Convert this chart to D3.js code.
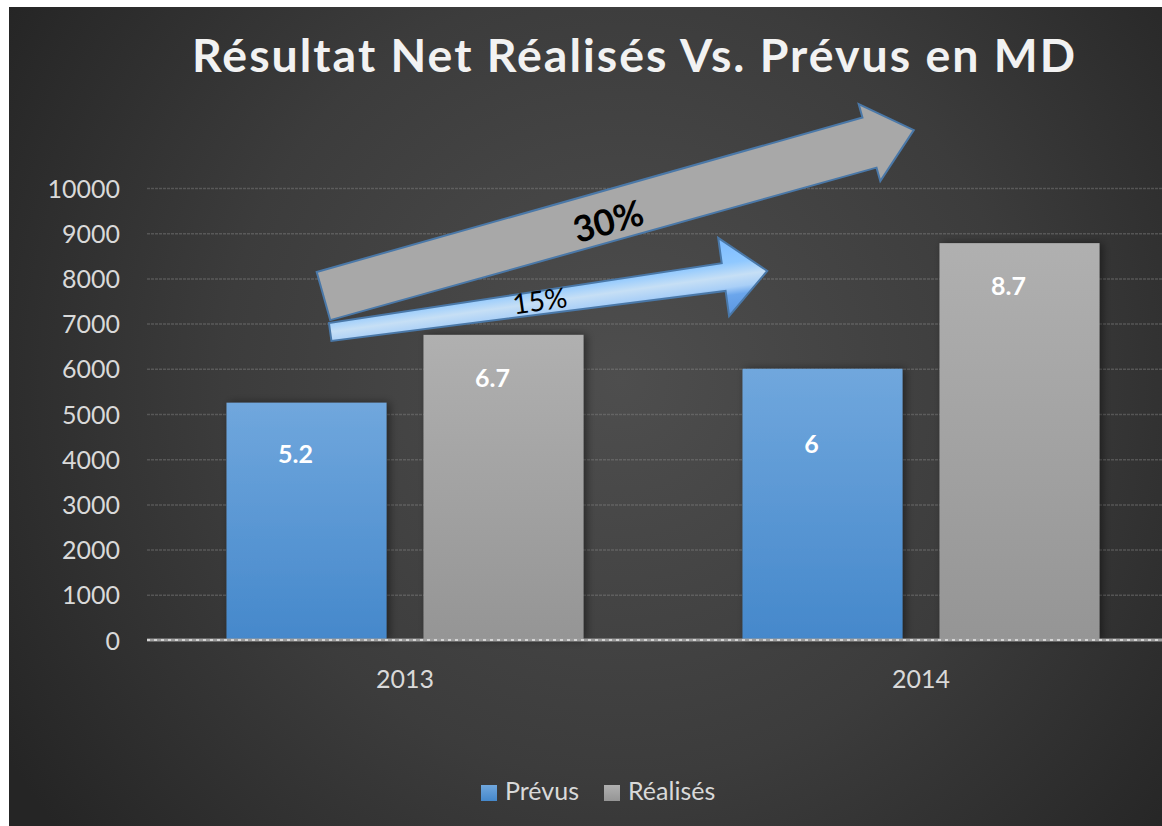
<!DOCTYPE html>
<html>
<head>
<meta charset="UTF-8">
<title>Résultat Net Réalisés Vs. Prévus en MD</title>
<script src="https://cdn.jsdelivr.net/npm/d3@7"></script>
<style>
  body { margin: 0; background: #fff; }
  svg { display: block; }
  .tick text { fill: #d9d9d9; font-family: Lato, "Open Sans", sans-serif; font-size: 25px; }
</style>
</head>
<body>
<div id="chart"></div>
<script>
// data
var years = ["2013", "2014"];
var series = ["Prévus", "Réalisés"];
var prevus = [5250, 6000];
var realises = [6750, 8780];
var prevusLabels = ["5.2", "6"];
var realisesLabels = ["6.7", "8.7"];
var yTicks = [0, 1000, 2000, 3000, 4000, 5000, 6000, 7000, 8000, 9000, 10000];
var labelDy = [[60, 84], [52, 52]]; // baseline below bar top, per series / year

// growth arrows, tail and tip in (category units, value)
var arrows = [
  { label: "30%", tail: [0.342, 7610], tip: [1.486, 11280], tailW: 50, neckW: 52, headW: 80, headLen: 46, fill: "#a8a8a8", bold: true, size: 36, t: 0.48, off: 4 },
  { label: "15%", tail: [0.355, 6815], tip: [1.202, 8165], tailW: 18, neckW: 28, headW: 79, headLen: 44, fill: "url(#blueArrow)", bold: false, size: 28, t: 0.48, off: -3 }
];

var width = 1162, height = 826;
var font = "Lato, 'Open Sans', sans-serif";

var svg = d3.select("#chart").append("svg")
  .attr("width", width).attr("height", height);

var defs = svg.append("defs");

var bg = defs.append("radialGradient").attr("id", "bg")
  .attr("gradientUnits", "userSpaceOnUse")
  .attr("cx", 620).attr("cy", 380).attr("r", 720);
bg.append("stop").attr("offset", 0).attr("stop-color", "#4e4e4e");
bg.append("stop").attr("offset", 0.55).attr("stop-color", "#3c3c3c");
bg.append("stop").attr("offset", 1).attr("stop-color", "#252525");

function vGrad(id, top, bottom) {
  var g = defs.append("linearGradient").attr("id", id)
    .attr("x1", 0).attr("y1", 0).attr("x2", 0).attr("y2", 1);
  g.append("stop").attr("offset", 0).attr("stop-color", top);
  g.append("stop").attr("offset", 1).attr("stop-color", bottom);
}
vGrad("gPrevus", "#70a7dd", "#4588cb");
vGrad("gRealises", "#b0b0b0", "#959595");
var fills = { "Prévus": "url(#gPrevus)", "Réalisés": "url(#gRealises)" };

var shadow = defs.append("filter").attr("id", "shadow")
  .attr("x", "-10%").attr("y", "-10%").attr("width", "130%").attr("height", "120%");
shadow.append("feDropShadow").attr("dx", 3).attr("dy", 0).attr("stdDeviation", 4)
  .attr("flood-color", "#000").attr("flood-opacity", 0.45);

// background
svg.append("rect").attr("x", 9).attr("y", 7)
  .attr("width", width - 9).attr("height", height - 7)
  .attr("fill", "url(#bg)");

// scales
var x0 = d3.scaleBand().domain(years).range([147, 1179]);
var x1 = d3.scaleBand().domain(series).range([0, x0.bandwidth()])
  .paddingInner(0.1878).paddingOuter(0.4036);
var y = d3.scaleLinear().domain([0, 10000]).range([640, 188]);
var xu = d3.scaleLinear().domain([0, 2]).range(x0.range());

// title
svg.append("text")
  .attr("x", 192).attr("y", 72)
  .attr("textLength", 885).attr("lengthAdjust", "spacingAndGlyphs")
  .style("font-family", font).style("font-weight", "bold")
  .style("font-size", "46px").style("letter-spacing", "2px")
  .attr("fill", "#f2f2f2")
  .text("Résultat Net Réalisés Vs. Prévus en MD");

// y axis + gridlines
var yAxisG = svg.append("g").attr("class", "axis")
  .attr("transform", "translate(147,0)")
  .call(d3.axisLeft(y).tickValues(yTicks).tickFormat(d3.format("d"))
    .tickSize(-(width - 147)).tickPadding(27));
yAxisG.select(".domain").remove();
yAxisG.selectAll(".tick line")
  .attr("stroke", "#8a8a8a").attr("stroke-opacity", 0.4)
  .attr("stroke-width", 1.5).attr("stroke-dasharray", "3,1");
yAxisG.selectAll(".tick text").attr("dy", "0.36em");
yAxisG.selectAll(".tick").filter(function(d) { return d === 0; }).select("line").remove();

// bars
var rows = years.map(function(yr, i) {
  return [
    { year: yr, s: "Prévus", v: prevus[i], lab: prevusLabels[i], dy: labelDy[0][i] },
    { year: yr, s: "Réalisés", v: realises[i], lab: realisesLabels[i], dy: labelDy[1][i] }
  ];
});

var groups = svg.selectAll(".year").data(rows).enter().append("g")
  .attr("class", "year")
  .attr("transform", function(d, i) { return "translate(" + x0(years[i]) + ",0)"; });

groups.selectAll("rect").data(function(d) { return d; }).enter().append("rect")
  .attr("x", function(d) { return x1(d.s); })
  .attr("y", function(d) { return y(d.v); })
  .attr("width", x1.bandwidth())
  .attr("height", function(d) { return y(0) - y(d.v); })
  .attr("fill", function(d) { return fills[d.s]; })
  .attr("filter", "url(#shadow)");

groups.selectAll(".lab").data(function(d) { return d; }).enter().append("text")
  .attr("class", "lab")
  .attr("x", function(d) { return x1(d.s) + x1.bandwidth() / 2 - 11; })
  .attr("y", function(d) { return y(d.v) + d.dy; })
  .attr("text-anchor", "middle")
  .style("font-family", font).style("font-weight", "bold").style("font-size", "25px")
  .attr("fill", "#ffffff")
  .text(function(d) { return d.lab; });

// baseline
svg.append("line").attr("x1", 147).attr("x2", width)
  .attr("y1", y(0)).attr("y2", y(0))
  .attr("stroke", "#9c9c9c").attr("stroke-width", 3);
svg.append("line").attr("x1", 147).attr("x2", width)
  .attr("y1", y(0)).attr("y2", y(0))
  .attr("stroke", "#d4d4d4").attr("stroke-width", 2).attr("stroke-dasharray", "3,4");

// x axis labels
var xAxisG = svg.append("g").attr("class", "axis")
  .attr("transform", "translate(0," + y(0) + ")")
  .call(d3.axisBottom(x0).tickSize(0).tickPadding(30));
xAxisG.select(".domain").remove();

// arrows
arrows.forEach(function(a, i) {
  var p0 = [xu(a.tail[0]), y(a.tail[1])];
  var p1 = [xu(a.tip[0]), y(a.tip[1])];
  var len = Math.hypot(p1[0] - p0[0], p1[1] - p0[1]);
  var d = [(p1[0] - p0[0]) / len, (p1[1] - p0[1]) / len];
  var n = [-d[1], d[0]];
  var neck = [p1[0] - d[0] * a.headLen, p1[1] - d[1] * a.headLen];
  function at(p, k) { return [p[0] + n[0] * k, p[1] + n[1] * k]; }
  var pts = [at(p0, -a.tailW / 2), at(neck, -a.neckW / 2), at(neck, -a.headW / 2), p1,
             at(neck, a.headW / 2), at(neck, a.neckW / 2), at(p0, a.tailW / 2)];

  if (a.fill.indexOf("blueArrow") >= 0) {
    var g0 = at(p0, -a.headW / 2), g1 = at(p0, a.headW / 2);
    var lg = defs.append("linearGradient").attr("id", "blueArrow")
      .attr("gradientUnits", "userSpaceOnUse")
      .attr("x1", g0[0]).attr("y1", g0[1]).attr("x2", g1[0]).attr("y2", g1[1]);
    [[0, "#7cbaff"], [0.33, "#8fc8ff"], [0.5, "#c6dff5"], [0.64, "#a9cff7"], [0.74, "#6ba6ec"], [1, "#5a95df"]]
      .forEach(function(s) { lg.append("stop").attr("offset", s[0]).attr("stop-color", s[1]); });
  }

  svg.append("path")
    .attr("d", d3.line()(pts) + "Z")
    .attr("fill", a.fill)
    .attr("stroke", "#4a78a8").attr("stroke-width", 2).attr("stroke-linejoin", "miter");

  var c = at([p0[0] + d[0] * len * a.t, p0[1] + d[1] * len * a.t], a.off);
  var ang = Math.atan2(d[1], d[0]) * 180 / Math.PI;
  svg.append("text")
    .attr("transform", "translate(" + c[0] + "," + c[1] + ") rotate(" + ang + ")")
    .attr("text-anchor", "middle").attr("dominant-baseline", "central")
    .style("font-family", font).style("font-weight", a.bold ? "bold" : "normal")
    .style("font-size", a.size + "px")
    .attr("fill", "#000")
    .text(a.label);
});

// legend
var legend = svg.append("g").attr("transform", "translate(481,785)");
var legX = [0, 123];
series.forEach(function(s, i) {
  legend.append("rect").attr("x", legX[i]).attr("y", 0)
    .attr("width", 16).attr("height", 16).attr("fill", fills[s]);
  legend.append("text").attr("x", legX[i] + 24).attr("y", 15)
    .style("font-family", font).style("font-size", "25px")
    .attr("fill", "#d9d9d9").text(s);
});
</script>
</body>
</html>
